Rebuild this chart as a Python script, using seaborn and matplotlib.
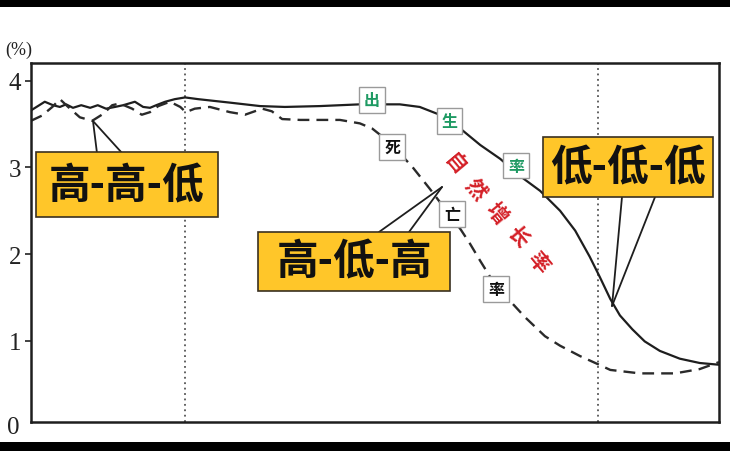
import matplotlib
matplotlib.use("Agg")
import matplotlib.pyplot as plt
from matplotlib.patches import Rectangle
import seaborn as sns
import pandas as pd

sns.set_theme(style="white")
plt.rcParams['font.family'] = ['Noto Sans CJK SC', 'DejaVu Sans']

# ---- data (x: relative time 0-100, y: rate in %) ----
birth_x = [0.0, 1.0, 2.0, 3.2, 4.2, 5.1, 6.1, 7.3, 8.6, 9.7, 10.9, 12.2, 13.4, 15.1, 16.3,
           17.3, 18.2, 19.5, 20.9, 22.4, 24.3, 28.9, 33.3, 36.9, 42.0, 47.8, 53.6, 56.5,
           59.4, 62.4, 65.3, 68.2, 71.1, 74.0, 76.9, 79.1, 81.2, 82.7, 84.2, 85.6, 87.4,
           89.2, 91.4, 94.3, 97.2, 100.0]
birth_y = [3.66, 3.71, 3.76, 3.72, 3.70, 3.73, 3.69, 3.72, 3.69, 3.72, 3.68, 3.70, 3.72, 3.76, 3.70,
           3.69, 3.72, 3.76, 3.79, 3.81, 3.79, 3.75, 3.71, 3.70, 3.71, 3.73, 3.73, 3.70,
           3.61, 3.45, 3.26, 3.10, 2.90, 2.73, 2.50, 2.27, 1.97, 1.73, 1.48, 1.29, 1.13,
           0.99, 0.88, 0.79, 0.74, 0.72]

death_x = [0.0, 1.6, 3.1, 4.2, 5.4, 7.1, 8.9, 10.5, 11.8, 12.9, 14.7, 16.1, 17.3, 18.5, 20.2,
           21.7, 22.5, 23.8, 26.0, 28.9, 31.1, 33.6, 35.0, 36.5, 39.1, 44.9, 47.8, 49.6,
           51.5, 53.3, 55.4, 58.0, 60.2, 62.4, 63.8, 65.3, 67.4, 69.6, 71.8, 74.7, 76.9,
           79.8, 82.3, 84.2, 88.5, 93.6, 97.2, 100.0]
death_y = [3.54, 3.60, 3.70, 3.79, 3.70, 3.58, 3.54, 3.62, 3.72, 3.74, 3.68, 3.61, 3.64, 3.71, 3.76,
           3.70, 3.64, 3.68, 3.70, 3.64, 3.61, 3.68, 3.65, 3.56, 3.55, 3.55, 3.51, 3.45,
           3.33, 3.19, 3.01, 2.75, 2.52, 2.29, 2.12, 1.92, 1.65, 1.46, 1.27, 1.05, 0.94,
           0.82, 0.73, 0.66, 0.62, 0.62, 0.67, 0.75]

stage_lines = [22.4, 82.4]
y_ticks = [1, 2, 3, 4]
y_tick_labels = ["1", "2", "3", "4"]
stage_labels = ["高-高-低", "高-低-高", "低-低-低"]
birth_chars = ["出", "生", "率"]
death_chars = ["死", "亡", "率"]
growth_chars = ["自", "然", "增", "长", "率"]

birth_df = pd.DataFrame({"x": birth_x, "y": birth_y})
death_df = pd.DataFrame({"x": death_x, "y": death_y})

fig = plt.figure(figsize=(7.3, 4.52), dpi=100)
fig.patch.set_facecolor("white")
ax = fig.add_axes([31/730, 29/452, 688/730, 359/452])

sns.lineplot(data=birth_df, x="x", y="y", ax=ax, color="#1e1e1e", linewidth=1.6,
             estimator=None, sort=False)
sns.lineplot(data=death_df, x="x", y="y", ax=ax, color="#2a2a2a", linewidth=1.7,
             estimator=None, sort=False, dashes=False)
ax.lines[-1].set_dashes([5, 3])

for xv in stage_lines:
    ax.axvline(xv, color="#555555", linestyle=(0, (1, 2)), linewidth=1.3, zorder=1)

ax.set_xlim(0, 100)
ax.set_ylim(0.058, 4.208)
ax.set_xticks([])
ax.set_yticks(y_ticks)
ax.set_yticklabels(y_tick_labels, fontfamily="Liberation Serif", fontsize=18, color="#222222")
ax.tick_params(axis="y", direction="out", length=4, width=1.2, pad=3, colors="#222222",
               left=True)
ax.text(-0.016, 0.0, "0", transform=ax.get_yaxis_transform(), ha="right", va="center",
        fontfamily="Liberation Serif", fontsize=18, color="#222222", clip_on=False)
ax.set_xlabel("")
ax.set_ylabel("")
for sp in ax.spines.values():
    sp.set_color("#1e1e1e")
    sp.set_linewidth(1.8)

fig.text(5/730, 1 - 50/452, "(%)", fontfamily="Liberation Serif", fontsize=13,
         color="#222222", ha="left", va="center")

# yellow stage boxes (axes fraction)
boxes = [
    (0.00727, 0.571, 0.2645, 0.181, 0.1395, 0.660),
    (0.330, 0.365, 0.279, 0.164, 0.4695, 0.4485),
    (0.744, 0.627, 0.247, 0.167, 0.8677, 0.710),
]
leaders = [
    ((0.0901, 0.8384), [(0.0959, 0.7493), (0.1323, 0.7493)]),
    ((0.5974, 0.6546), [(0.5058, 0.5292), (0.5494, 0.5292)]),
    ((0.8445, 0.3231), [(0.859, 0.6267), (0.907, 0.6267)]),
]
for (apex, ends) in leaders:
    for e in ends:
        ax.annotate("", xy=apex, xytext=e, xycoords="axes fraction", textcoords="axes fraction",
                    arrowprops=dict(arrowstyle="-", color="#1e1e1e", lw=1.3, shrinkA=0, shrinkB=0),
                    zorder=4)
for (x0, y0, w, h, cx, cy), lab in zip(boxes, stage_labels):
    ax.add_patch(Rectangle((x0, y0), w, h, transform=ax.transAxes, facecolor="#FFC629",
                           edgecolor="#3a3020", linewidth=1.2, zorder=5))
    ax.text(cx, cy, lab, transform=ax.transAxes, ha="center", va="center", fontsize=30,
            fontweight="heavy", color="#111111", zorder=6)

# small labels on curves
small_pos_birth = [(0.4956, 0.897), (0.608, 0.838), (0.705, 0.714)]
small_pos_death = [(0.5248, 0.766), (0.6120, 0.580), (0.6759, 0.370)]
for (px, py), ch in zip(small_pos_birth, birth_chars):
    ax.text(px, py, ch, transform=ax.transAxes, ha="center", va="center", fontsize=11.5,
            fontweight="bold", color="#1e9a63", zorder=7,
            bbox=dict(boxstyle="square,pad=0.3", facecolor="white", edgecolor="#9a9a9a", lw=1.0))
for (px, py), ch in zip(small_pos_death, death_chars):
    ax.text(px, py, ch, transform=ax.transAxes, ha="center", va="center", fontsize=11.5,
            fontweight="bold", color="#111111", zorder=7,
            bbox=dict(boxstyle="square,pad=0.3", facecolor="white", edgecolor="#9a9a9a", lw=1.0))

# red rotated text
gx0, gy0 = (455 - 31) / 688, (423 - 165) / 359
gdx, gdy = 20.8 / 688, -24.3 / 359
for i, ch in enumerate(growth_chars):
    ax.text(gx0 + i * gdx, gy0 + i * gdy, ch, transform=ax.transAxes, ha="center", va="center",
            fontsize=15, fontweight="bold", color="#d42027", rotation=-50, zorder=3)

# black bars of the screenshot
fig.patches.append(Rectangle((0, 1 - 8/452), 1, 8/452, transform=fig.transFigure,
                             facecolor="black", edgecolor="none", zorder=10))
fig.patches.append(Rectangle((0, 0), 1, 9/452, transform=fig.transFigure,
                             facecolor="black", edgecolor="none", zorder=10))

fig.savefig("out.png", dpi=100)
